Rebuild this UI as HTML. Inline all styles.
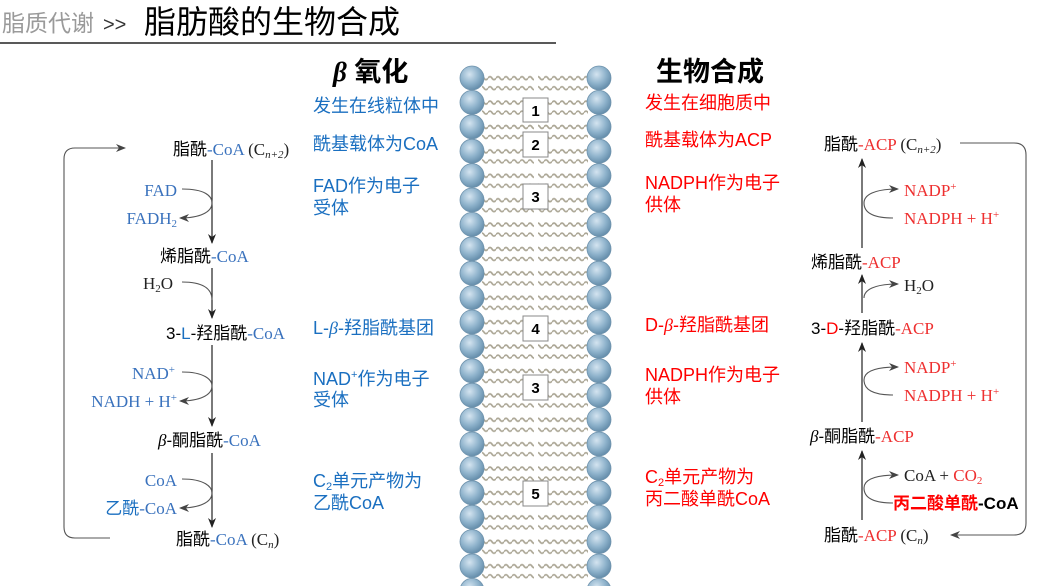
<!DOCTYPE html>
<html><head><meta charset="utf-8"><style>
html,body{margin:0;padding:0;background:#fff;}
body{width:1059px;height:586px;overflow:hidden;position:relative;font-family:"Liberation Sans","Noto Sans CJK SC",sans-serif;}
svg{position:absolute;left:0;top:0;}
.cj{font-family:"Liberation Sans","Noto Sans CJK SC",sans-serif;}
.sf{font-family:"Liberation Serif","Noto Serif CJK SC",serif;}
</style></head><body>
<svg width="1059" height="586" viewBox="0 0 1059 586" xmlns="http://www.w3.org/2000/svg">
<defs>
<radialGradient id="bg" cx="0.4" cy="0.35" r="0.7">
<stop offset="0" stop-color="#d4e4f0"/><stop offset="0.55" stop-color="#8fb3cc"/><stop offset="1" stop-color="#5f88a6"/>
</radialGradient>
<pattern id="wv" x="0" y="0" width="8" height="24.4" patternUnits="userSpaceOnUse">
<path d="M0 5 Q2 2 4 5 T8 5 M0 15 Q2 12 4 15 T8 15" fill="none" stroke="#aca796" stroke-width="1.7"/>
</pattern>
<marker id="ah" markerWidth="10" markerHeight="8" refX="9" refY="4" orient="auto" markerUnits="userSpaceOnUse">
<path d="M0 0 L10 4 L0 8 L3 4 Z" fill="#222"/>
</marker>
<marker id="ag" markerWidth="10" markerHeight="8" refX="9" refY="4" orient="auto" markerUnits="userSpaceOnUse">
<path d="M0 0 L10 4 L0 8 L3 4 Z" fill="#444"/>
</marker>
</defs>

<!-- title -->
<text x="2" y="31" font-size="23" fill="#9a9a9a" class="cj">脂质代谢</text>
<text x="103" y="31" font-size="20" fill="#333" class="cj">&gt;&gt;</text>
<text x="144" y="33" font-size="32" fill="#000" class="cj">脂肪酸的生物合成</text>
<line x1="0" y1="43" x2="556" y2="43" stroke="#222" stroke-width="1.5"/>

<!-- membrane -->
<rect x="482" y="68" width="52" height="518" fill="url(#wv)"/>
<rect x="538" y="68" width="50" height="518" fill="url(#wv)"/>
<g fill="url(#bg)" stroke="#6f93ad" stroke-width="0.8">
<circle cx="472" cy="78" r="12"/><circle cx="472" cy="102.4" r="12"/><circle cx="472" cy="126.8" r="12"/><circle cx="472" cy="151.2" r="12"/><circle cx="472" cy="175.6" r="12"/><circle cx="472" cy="200" r="12"/><circle cx="472" cy="224.4" r="12"/><circle cx="472" cy="248.8" r="12"/><circle cx="472" cy="273.2" r="12"/><circle cx="472" cy="297.6" r="12"/><circle cx="472" cy="322" r="12"/><circle cx="472" cy="346.4" r="12"/><circle cx="472" cy="370.8" r="12"/><circle cx="472" cy="395.2" r="12"/><circle cx="472" cy="419.6" r="12"/><circle cx="472" cy="444" r="12"/><circle cx="472" cy="468.4" r="12"/><circle cx="472" cy="492.8" r="12"/><circle cx="472" cy="517.2" r="12"/><circle cx="472" cy="541.6" r="12"/><circle cx="472" cy="566" r="12"/><circle cx="472" cy="590.4" r="12"/>
<circle cx="599" cy="78" r="12"/><circle cx="599" cy="102.4" r="12"/><circle cx="599" cy="126.8" r="12"/><circle cx="599" cy="151.2" r="12"/><circle cx="599" cy="175.6" r="12"/><circle cx="599" cy="200" r="12"/><circle cx="599" cy="224.4" r="12"/><circle cx="599" cy="248.8" r="12"/><circle cx="599" cy="273.2" r="12"/><circle cx="599" cy="297.6" r="12"/><circle cx="599" cy="322" r="12"/><circle cx="599" cy="346.4" r="12"/><circle cx="599" cy="370.8" r="12"/><circle cx="599" cy="395.2" r="12"/><circle cx="599" cy="419.6" r="12"/><circle cx="599" cy="444" r="12"/><circle cx="599" cy="468.4" r="12"/><circle cx="599" cy="492.8" r="12"/><circle cx="599" cy="517.2" r="12"/><circle cx="599" cy="541.6" r="12"/><circle cx="599" cy="566" r="12"/><circle cx="599" cy="590.4" r="12"/>
</g>
<g font-size="15" font-weight="bold" text-anchor="middle" fill="#000">
<rect x="523" y="98" width="25" height="24" fill="#fff" stroke="#888"/><text x="535.5" y="116">1</text>
<rect x="523" y="132" width="25" height="25" fill="#fff" stroke="#888"/><text x="535.5" y="150">2</text>
<rect x="523" y="184" width="25" height="25" fill="#fff" stroke="#888"/><text x="535.5" y="202">3</text>
<rect x="523" y="316" width="25" height="25" fill="#fff" stroke="#888"/><text x="535.5" y="334">4</text>
<rect x="523" y="375" width="25" height="25" fill="#fff" stroke="#888"/><text x="535.5" y="393">3</text>
<rect x="523" y="481" width="25" height="25" fill="#fff" stroke="#888"/><text x="535.5" y="499">5</text>
</g>

<!-- headers -->
<text x="333" y="81" font-size="27" font-weight="bold" fill="#000"><tspan class="sf" font-style="italic">β</tspan> 氧化</text>
<text x="656" y="81" font-size="27" font-weight="bold" fill="#000">生物合成</text>

<!-- blue middle column -->
<g font-size="18" fill="#1a6fc0">
<text x="313" y="112">发生在线粒体中</text>
<text x="313" y="150">酰基载体为CoA</text>
<text x="313" y="192">FAD作为电子</text>
<text x="313" y="214">受体</text>
<text x="313" y="334">L-<tspan class="sf" font-style="italic">β</tspan>-羟脂酰基团</text>
<text x="313" y="385">NAD<tspan font-size="11" dy="-7">+</tspan><tspan dy="7">作为电子</tspan></text>
<text x="313" y="406">受体</text>
<text x="313" y="487">C<tspan font-size="11" dy="3">2</tspan><tspan dy="-3">单元产物为</tspan></text>
<text x="313" y="509">乙酰CoA</text>
</g>
<!-- red middle column -->
<g font-size="18" fill="#ff0000">
<text x="645" y="109">发生在细胞质中</text>
<text x="645" y="146">酰基载体为ACP</text>
<text x="645" y="189">NADPH作为电子</text>
<text x="645" y="211">供体</text>
<text x="645" y="331">D-<tspan class="sf" font-style="italic">β</tspan>-羟脂酰基团</text>
<text x="645" y="381">NADPH作为电子</text>
<text x="645" y="403">供体</text>
<text x="645" y="483">C<tspan font-size="11" dy="3">2</tspan><tspan dy="-3">单元产物为</tspan></text>
<text x="645" y="505">丙二酸单酰CoA</text>
</g>

<!-- left beta oxidation -->
<g font-size="17">
<text x="173" y="155" fill="#000">脂酰<tspan class="sf" fill="#3a72bd">-CoA</tspan><tspan class="sf" fill="#222"> (C<tspan font-size="11" dy="3" font-style="italic">n+2</tspan><tspan dy="-3">)</tspan></tspan></text>
<text x="177" y="196" text-anchor="end" class="sf" fill="#3a72bd">FAD</text>
<text x="177" y="224" text-anchor="end" class="sf" fill="#3a72bd">FADH<tspan font-size="11" dy="3">2</tspan></text>
<text x="160" y="262" fill="#000">烯脂酰<tspan class="sf" fill="#3a72bd">-CoA</tspan></text>
<text x="143" y="289" class="sf" fill="#222">H<tspan font-size="11" dy="3">2</tspan><tspan dy="-3">O</tspan></text>
<text x="166" y="339" fill="#000">3-<tspan fill="#1a6fc0">L</tspan>-羟脂酰<tspan class="sf" fill="#3a72bd">-CoA</tspan></text>
<text x="175" y="379" text-anchor="end" class="sf" fill="#3a72bd">NAD<tspan font-size="11" dy="-6">+</tspan></text>
<text x="177" y="407" text-anchor="end" class="sf" fill="#3a72bd">NADH + H<tspan font-size="11" dy="-6">+</tspan></text>
<text x="158" y="446" fill="#000"><tspan class="sf" font-style="italic">β</tspan>-酮脂酰<tspan class="sf" fill="#3a72bd">-CoA</tspan></text>
<text x="177" y="486" text-anchor="end" class="sf" fill="#3a72bd">CoA</text>
<text x="177" y="514" text-anchor="end" fill="#1a6fc0">乙酰<tspan class="sf" fill="#3a72bd">-CoA</tspan></text>
<text x="176" y="545" fill="#000">脂酰<tspan class="sf" fill="#3a72bd">-CoA</tspan><tspan class="sf" fill="#222"> (C<tspan font-size="11" dy="3" font-style="italic">n</tspan><tspan dy="-3">)</tspan></tspan></text>
</g>
<g fill="none" stroke="#222" stroke-width="1.2">
<line x1="212" y1="160" x2="212" y2="243" marker-end="url(#ah)"/>
<line x1="212" y1="268" x2="212" y2="318" marker-end="url(#ah)"/>
<line x1="212" y1="345" x2="212" y2="426" marker-end="url(#ah)"/>
<line x1="212" y1="453" x2="212" y2="527" marker-end="url(#ah)"/>
</g>
<g fill="none" stroke="#555" stroke-width="1.1">
<path d="M182 189 C205 189 212 196 212 203 C212 212 200 218 180 218" marker-end="url(#ag)"/>
<path d="M182 282 C205 282 212 290 212 300"/>
<path d="M182 372 C205 372 212 380 212 386 C212 395 200 401 180 401" marker-end="url(#ag)"/>
<path d="M182 479 C205 479 212 487 212 493 C212 502 200 508 180 508" marker-end="url(#ag)"/>
<path d="M110 538 L75 538 Q64 538 64 527 L64 159 Q64 148 75 148 L125 148" marker-end="url(#ag)"/>
</g>

<!-- right synthesis -->
<g font-size="17">
<text x="824" y="150" fill="#000">脂酰<tspan class="sf" fill="#ee3030">-ACP</tspan><tspan class="sf" fill="#222"> (C<tspan font-size="11" dy="3" font-style="italic">n+2</tspan><tspan dy="-3">)</tspan></tspan></text>
<text x="904" y="196" class="sf" fill="#ee3030">NADP<tspan font-size="11" dy="-6">+</tspan></text>
<text x="904" y="224" class="sf" fill="#ee3030">NADPH + H<tspan font-size="11" dy="-6">+</tspan></text>
<text x="811" y="268" fill="#000">烯脂酰<tspan class="sf" fill="#ee3030">-ACP</tspan></text>
<text x="904" y="291" class="sf" fill="#222">H<tspan font-size="11" dy="3">2</tspan><tspan dy="-3">O</tspan></text>
<text x="811" y="334" fill="#000">3-<tspan fill="#ff0000">D</tspan>-羟脂酰<tspan class="sf" fill="#ee3030">-ACP</tspan></text>
<text x="904" y="373" class="sf" fill="#ee3030">NADP<tspan font-size="11" dy="-6">+</tspan></text>
<text x="904" y="401" class="sf" fill="#ee3030">NADPH + H<tspan font-size="11" dy="-6">+</tspan></text>
<text x="810" y="442" fill="#000"><tspan class="sf" font-style="italic">β</tspan>-酮脂酰<tspan class="sf" fill="#ee3030">-ACP</tspan></text>
<text x="904" y="481" class="sf" fill="#222">CoA + <tspan fill="#ee3030">CO<tspan font-size="11" dy="3">2</tspan></tspan></text>
<text x="893" y="509" font-weight="bold" fill="#ff0000" font-size="17">丙二酸单酰<tspan fill="#000">-CoA</tspan></text>
<text x="824" y="541" fill="#000">脂酰<tspan class="sf" fill="#ee3030">-ACP</tspan><tspan class="sf" fill="#222"> (C<tspan font-size="11" dy="3" font-style="italic">n</tspan><tspan dy="-3">)</tspan></tspan></text>
</g>
<g fill="none" stroke="#222" stroke-width="1.2">
<line x1="862" y1="520" x2="862" y2="451" marker-end="url(#ah)"/>
<line x1="862" y1="422" x2="862" y2="343" marker-end="url(#ah)"/>
<line x1="862" y1="313" x2="862" y2="275" marker-end="url(#ah)"/>
<line x1="862" y1="248" x2="862" y2="159" marker-end="url(#ah)"/>
</g>
<g fill="none" stroke="#555" stroke-width="1.1">
<path d="M893 218 C872 218 864 212 864 203 C864 195 874 189 898 189" marker-end="url(#ag)"/>
<path d="M864 298 C864 290 874 284 898 284" marker-end="url(#ag)"/>
<path d="M893 395 C872 395 864 389 864 380 C864 372 874 367 898 367" marker-end="url(#ag)"/>
<path d="M893 503 C872 503 864 497 864 488 C864 480 874 475 898 475" marker-end="url(#ag)"/>
<path d="M960 143 L1014 143 Q1026 143 1026 155 L1026 523 Q1026 535 1014 535 L951 535" marker-end="url(#ag)"/>
</g>
</svg>
</body></html>
